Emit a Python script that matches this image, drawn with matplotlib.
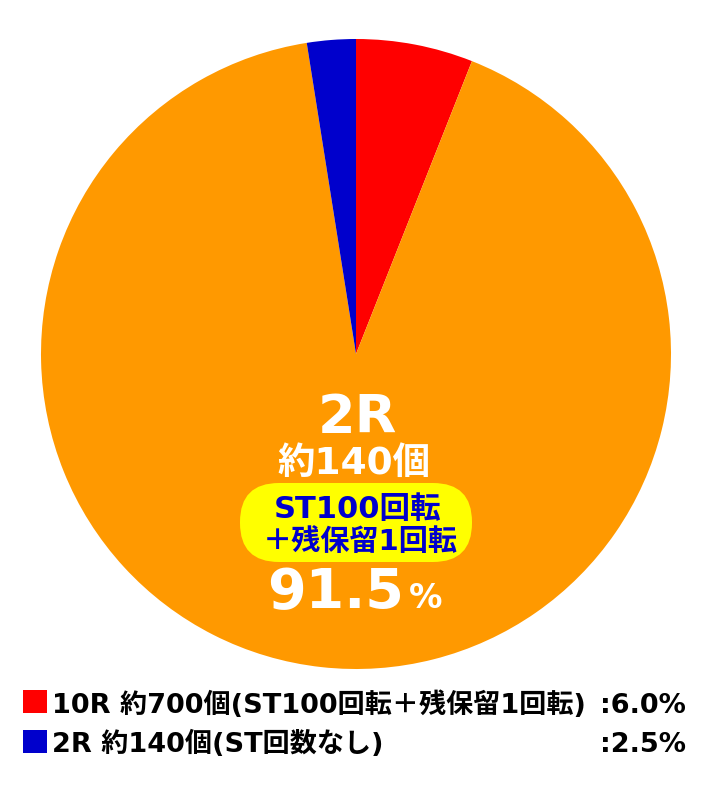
import matplotlib.pyplot as plt
from matplotlib.patches import FancyBboxPatch

plt.rcParams['font.family'] = ['DejaVu Sans', 'Noto Sans CJK JP']

# slices, clockwise from 12 o'clock
labels = ["10R 約700個(ST100回転+残保留1回転)", "2R 約140個(ST100回転+残保留1回転)", "2R 約140個(ST回数なし)"]
shares = [6.0, 91.5, 2.5]
colors = ["#ff0000", "#ff9900", "#0000cc"]

legend_names = ["10R 約700個(ST100回転＋残保留1回転)", "2R 約140個(ST回数なし)"]
legend_values = [":6.0%", ":2.5%"]
legend_colors = ["#ff0000", "#0000cc"]

W, H = 712, 796
fig = plt.figure(figsize=(W / 100, H / 100), dpi=100)
ax = fig.add_axes([0, 0, 1, 1])

ax.pie(shares, colors=colors, startangle=90, counterclock=False,
       center=(356, H - 354), radius=315, frame=True)
ax.set_xlim(0, W)
ax.set_ylim(0, H)
ax.axis("off")

# center annotation (pixel rows measured from the top)
ax.text(357, H - 433, "2R", color="white", fontsize=39, fontweight="bold",
        ha="center", va="baseline")
ax.text(354, H - 474, "約140個", color="white", fontsize=27, fontweight="bold",
        ha="center", va="baseline")

ax.add_patch(FancyBboxPatch((240, H - 562), 232, 79,
                            boxstyle="round,pad=0,rounding_size=39",
                            fc="#ffff00", ec="none"))
ax.text(357, H - 518, "ST100回転", color="#0000cc", fontsize=22,
        fontweight="bold", ha="center", va="baseline")
ax.text(360, H - 550, "＋残保留1回転", color="#0000cc", fontsize=21,
        fontweight="bold", ha="center", va="baseline")

ax.text(404, H - 608, "91.5", color="white", fontsize=40, fontweight="bold",
        ha="right", va="baseline")
ax.text(409, H - 608, "%", color="white", fontsize=24, fontweight="bold",
        ha="left", va="baseline")

# legend rows
for i, (name, val, c) in enumerate(zip(legend_names, legend_values, legend_colors)):
    base = H - (713 + i * 39.5)
    ax.add_patch(plt.Rectangle((23, base), 24, 23, fc=c, ec="none"))
    ax.text(52, base, name, fontsize=19.5, fontweight="bold", ha="left",
            va="baseline", color="black")
    ax.text(686, base, val, fontsize=19.5, fontweight="bold", ha="right",
            va="baseline", color="black")

fig.savefig("out.png", dpi=100, facecolor="white")
